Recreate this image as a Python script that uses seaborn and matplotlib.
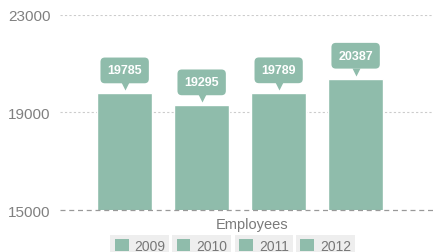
import pandas as pd
import numpy as np
import matplotlib.pyplot as plt
import matplotlib.transforms as mtransforms
from matplotlib.patches import Patch
import seaborn as sns

sns.set_style("white")
plt.rcParams['font.family'] = ['Liberation Sans', 'DejaVu Sans']

# data
years = ["2009", "2010", "2011", "2012"]
employees = [19785, 19295, 19789, 20387]
category = "Employees"

bar_color = "#8fbcab"
text_gray = "#808080"

df = pd.DataFrame({"metric": [category] * len(years), "year": years, "value": employees})

fig = plt.figure(figsize=(4.33, 2.53), dpi=100)
ax = fig.add_axes([0.139, 0.166, 0.861, 0.771])

sns.barplot(data=df, x="metric", y="value", hue="year", palette=[bar_color] * 4,
            width=0.8, gap=0.286, legend=False, ax=ax, saturation=1)

ax.set_ylim(15000, 23000)
ax.set_xlim(-0.4675, 0.501)
ax.set_yticks([15000, 19000, 23000])
ax.set_yticklabels(["15000", "19000", "23000"])
ax.tick_params(axis="y", length=0, labelsize=11, labelcolor=text_gray, pad=7)
ax.tick_params(axis="x", length=0)
ax.set_xticks([])
ax.set_ylabel("")
ax.set_xlabel(category, fontsize=10.5, color="#7a7a7a")
ax.xaxis.set_label_coords(0.515, -0.035)
sns.despine(ax=ax, left=True, bottom=True, top=True, right=True)

# grid lines
for y in [19000, 23000]:
    ax.axhline(y, color="#cccccc", lw=0.8, ls=(0, (2, 2)), zorder=0)
ax.axhline(15000, color="#999999", lw=0.9, ls=(0, (4, 3)), zorder=3, clip_on=False)

# callout labels
for bar, val in zip(ax.patches, employees):
    cx = bar.get_x() + bar.get_width() / 2
    ax.annotate(str(val), xy=(cx, val), xytext=(0, 16.5), textcoords="offset points",
                ha="center", va="center", fontsize=9, color="white", fontweight="semibold",
                bbox=dict(boxstyle="round,pad=0.55,rounding_size=0.35", fc=bar_color, ec="none"))
    tri = mtransforms.offset_copy(ax.transData, fig=fig, x=0, y=5, units="points")
    ax.plot([cx], [val], marker="v", ms=6, color=bar_color, mec="none",
            transform=tri, clip_on=False)

# legend: one grey box per year
xs = [0.323, 0.466, 0.610, 0.752]
for yr, x in zip(years, xs):
    leg = fig.legend(handles=[Patch(fc=bar_color, ec="none", label=yr)], loc="center",
                     bbox_to_anchor=(x, 0.024), frameon=True, fancybox=False,
                     facecolor="#eeeeee", edgecolor="none", framealpha=1,
                     fontsize=10, handlelength=1.0, handleheight=1.0,
                     handletextpad=0.4, borderpad=0.3, borderaxespad=0)
    for t in leg.get_texts():
        t.set_color("#777777")

fig.savefig("out.png", dpi=100)
